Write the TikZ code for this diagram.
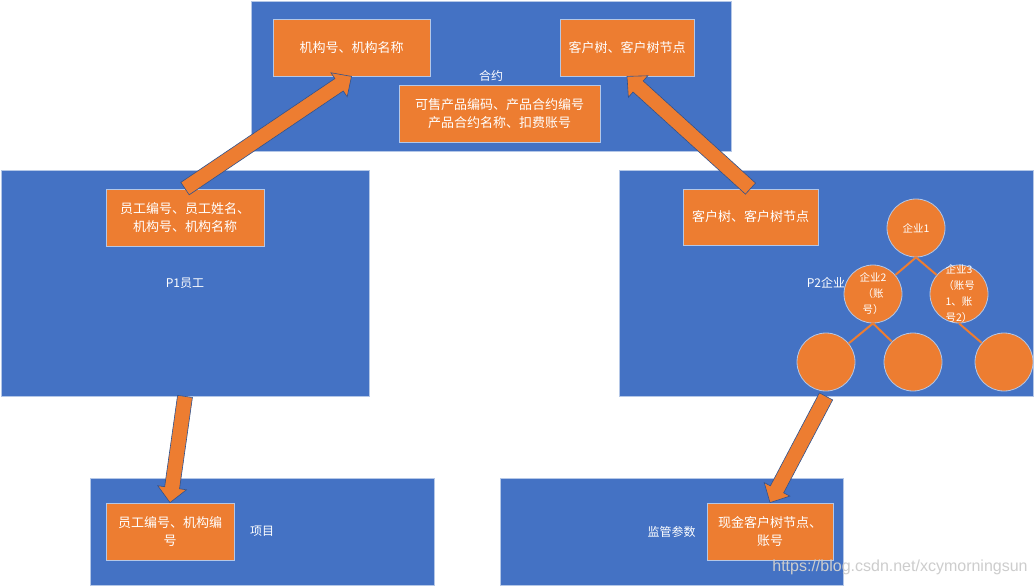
\documentclass[tikz,border=0pt]{standalone}
\usepackage{fontspec}
\setmainfont{Noto Sans CJK SC}
\newfontfamily\wmfont{Liberation Sans}
\usetikzlibrary{calc}
\definecolor{pblue}{RGB}{68,114,196}
\definecolor{porange}{RGB}{237,125,49}
\definecolor{pedge}{RGB}{180,199,231}
\definecolor{parrowedge}{RGB}{47,82,143}
\definecolor{wmgray}{RGB}{205,205,205}
\newcommand{\pbarrow}[2]{%
  \coordinate (ba-n) at ($(#2)!15pt!(#1)$);
  \filldraw[arrowstyle] ($(#1)!7.5pt!90:(#2)$) -- ($(ba-n)!7.5pt!90:(#2)$) -- ($(ba-n)!14.5pt!90:(#2)$) -- (#2) -- ($(ba-n)!14.5pt!-90:(#2)$) -- ($(ba-n)!7.5pt!-90:(#2)$) -- ($(#1)!7.5pt!-90:(#2)$) -- cycle;}
\begin{document}
\begin{tikzpicture}[x=1pt,y=-1pt,
  bigbox/.style={rectangle, fill=pblue, draw=pedge, line width=0.8pt, text=white, font=\fontsize{12}{15}\selectfont, inner sep=0pt},
  smallbox/.style={rectangle, fill=porange, draw=pedge, line width=0.8pt, text=white, font=\fontsize{13}{17.7}\selectfont, align=center, inner sep=0pt},
  circ/.style={circle, fill=porange, draw=pedge, line width=0.8pt, minimum size=58pt, inner sep=0pt},
  circtext/.style={text=white, font=\fontsize{10.5}{16}\selectfont, align=center, inner sep=0pt},
  treeline/.style={draw=porange, line width=2pt},
  arrowstyle/.style={fill=porange, draw=parrowedge, line width=0.6pt, line join=miter}]
\useasboundingbox (0,0) rectangle (1035,586);
\fill[white] (0,0) rectangle (1035,586);

% big containers
\node[bigbox, minimum width=480pt, minimum height=150pt] (contract) at (491,76) {合约};
\node[bigbox, minimum width=368pt, minimum height=226pt] (p1) at (185,283) {P1员工};
\node[bigbox, minimum width=414pt, minimum height=226pt] (p2) at (826,283) {P2企业};
\node[bigbox, minimum width=344pt, minimum height=107pt] (proj) at (262,531.5) {项目};
\node[bigbox, minimum width=343pt, minimum height=107pt] (sup) at (671.5,531.5) {监管参数};

% orange boxes
\node[smallbox, minimum width=157pt, minimum height=57pt] (org) at (351.5,47.5) {机构号、机构名称};
\node[smallbox, minimum width=134pt, minimum height=57pt] (cust1) at (627,47.5) {客户树、客户树节点};
\node[smallbox, minimum width=201pt, minimum height=57pt] (sale) at (499.5,113.5) {可售产品编码、产品合约编号\\产品合约名称、扣费账号};
\node[smallbox, minimum width=158pt, minimum height=57pt] (emp) at (185,217.5) {员工编号、员工姓名、\\机构号、机构名称};
\node[smallbox, minimum width=135pt, minimum height=56pt] (cust2) at (750.5,217) {客户树、客户树节点};
\node[smallbox, minimum width=128pt, minimum height=57pt] (emp2) at (170,531.5) {员工编号、机构编\\号};
\node[smallbox, minimum width=126pt, minimum height=57pt] (cash) at (770,531.5) {现金客户树节点、\\账号};

% tree of companies
\node[circ] (c1) at (916,228) {};
\node[circ] (c2) at (873,294) {};
\node[circ] (c3) at (959,294) {};
\node[circ] (c4) at (826,362) {};
\node[circ] (c5) at (913,362) {};
\node[circ] (c6) at (1004,362) {};
\draw[treeline] (c1.south) -- (c2);
\draw[treeline] (c1.south) -- (c3);
\draw[treeline] (c2.south) -- (c4);
\draw[treeline] (c2.south) -- (c5);
\draw[treeline] (c3.south) -- (c6);
\node[circtext] (c1t) at (c1) {企业1};
\node[circtext] (c2t) at (c2) {企业2\\（账\\号）};
\node[circtext] (c3t) at (c3) {企业3\\（账号\\1、账\\号2）};

% block arrows
\pbarrow{emp.north}{org.south}
\pbarrow{cust2.north}{cust1.south}
\pbarrow{p1.south}{emp2.north}
\pbarrow{p2.south}{cash.north}

% watermark
\node[font=\wmfont\fontsize{16}{16}\selectfont, text=wmgray, inner sep=0pt] (wm) at (900,567) {https://blog.csdn.net/xcymorningsun};
\end{tikzpicture}
\end{document}
